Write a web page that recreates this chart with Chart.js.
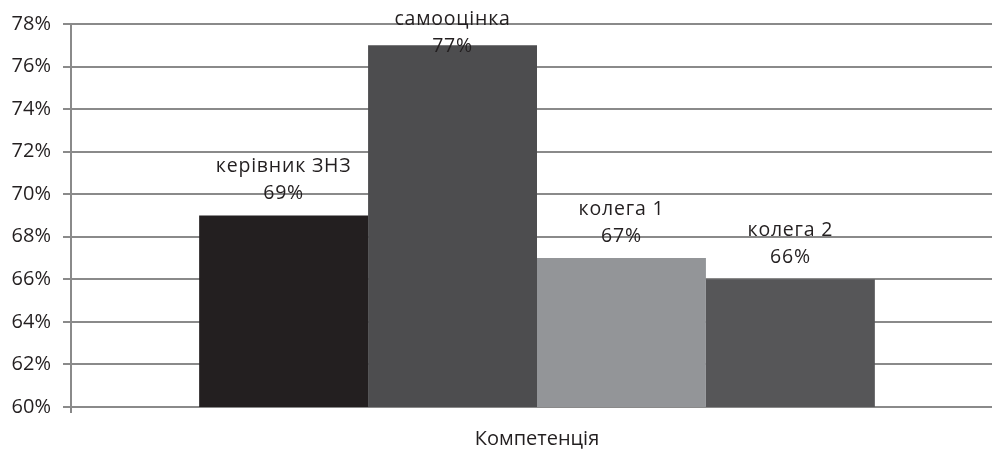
<!DOCTYPE html>
<html lang="uk">
<head>
    <meta charset="utf-8">
    <title>Компетенція</title>
    <script src="https://cdn.jsdelivr.net/npm/chart.js"></script>
    <style>
        html, body { margin: 0; padding: 0; background: #fff; overflow: hidden; }
        .wrap { width: 1003px; height: 450px; }
    </style>
</head>
<body>
    <div class="wrap"><canvas id="chart"></canvas></div>

    <script>
        // data
        const categories = ['Компетенція'];
        const seriesNames = ['керівник ЗНЗ', 'самооцінка', 'колега 1', 'колега 2'];
        const seriesValues = [69, 77, 67, 66];
        const seriesColors = ['#231f20', '#4d4d4f', '#939598', '#565658'];

        const textColor = '#231f20';
        const fontFamily = "'Open Sans', 'DejaVu Sans', sans-serif";

        // two-line labels above every bar: name, then value
        const barLabels = {
            id: 'barLabels',
            afterDatasetsDraw(chart) {
                const ctx = chart.ctx;
                ctx.save();
                ctx.font = '19.5px ' + fontFamily;
                ctx.letterSpacing = '0.8px';
                ctx.fillStyle = textColor;
                ctx.textAlign = 'center';
                ctx.textBaseline = 'middle';
                chart.data.datasets.forEach((ds, i) => {
                    const bar = chart.getDatasetMeta(i).data[0];
                    let top = Math.max(bar.y - 49, chart.chartArea.top - 5);
                    ctx.fillText(ds.label, bar.x, top);
                    ctx.fillText(ds.data[0] + '%', bar.x, top + 27);
                });
                ctx.restore();
            }
        };

        const ctx = document.getElementById('chart').getContext('2d');
        new Chart(ctx, {
            type: 'bar',
            data: {
                labels: categories,
                datasets: seriesNames.map((name, i) => ({
                    label: name,
                    data: [seriesValues[i]],
                    backgroundColor: seriesColors[i],
                    borderWidth: 0
                }))
            },
            options: {
                responsive: true,
                maintainAspectRatio: false,
                animation: false,
                layout: { padding: { top: 23, right: 0 } },
                datasets: {
                    bar: { categoryPercentage: 0.725, barPercentage: 1 }
                },
                plugins: {
                    legend: { display: false },
                    tooltip: { enabled: false }
                },
                scales: {
                    x: {
                        grid: { display: true, drawOnChartArea: false, offset: true, tickLength: 6, color: '#888', lineWidth: 2 },
                        border: { display: false },
                        ticks: { color: textColor, font: { size: 20, family: fontFamily }, padding: 14 },
                        afterFit: s => { s.height = 43; }
                    },
                    y: {
                        min: 60,
                        max: 78,
                        ticks: {
                            stepSize: 2,
                            color: textColor,
                            font: { size: 20, family: fontFamily },
                            padding: 12,
                            callback: v => v + '%'
                        },
                        grid: { color: '#8a8a8a', lineWidth: 2, tickLength: 8 },
                        border: { color: '#8a8a8a', width: 2 },
                        afterFit: s => { s.width = 71; }
                    }
                }
            },
            plugins: [barLabels]
        });
    </script>
</body>
</html>
